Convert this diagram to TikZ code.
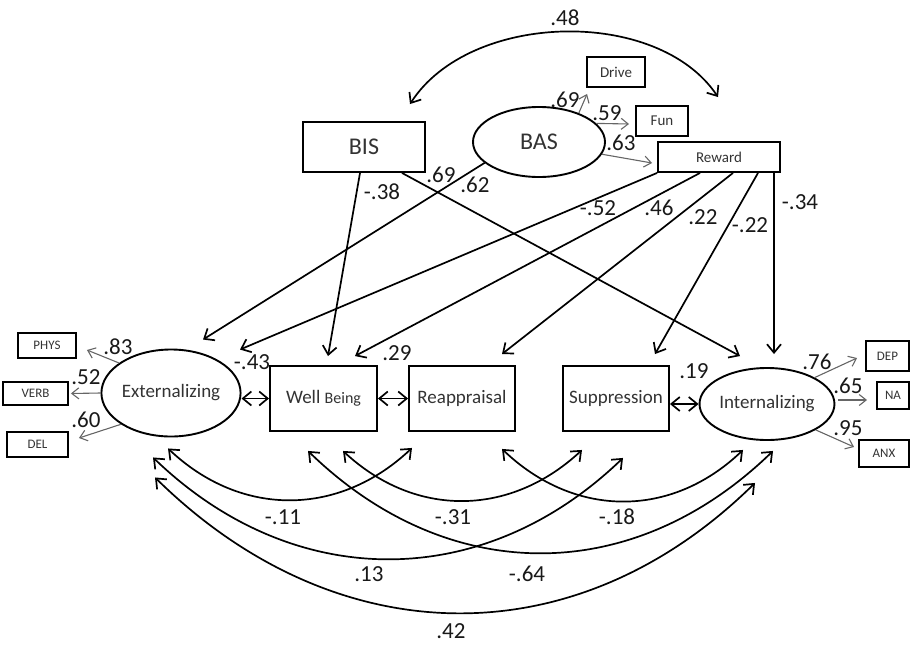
\documentclass[tikz,border=0pt]{standalone}
\usepackage{fontspec}
\setmainfont{Carlito}
\usetikzlibrary{arrows.meta,shapes.geometric}
\tikzset{
  box/.style={draw=black, line width=1.9pt, rectangle, inner sep=0pt, text=black!80},
  ell/.style={draw=black, line width=1.9pt, ellipse, inner sep=0pt, text=black!80},
  lab/.style={inner sep=0pt, font=\fontsize{23}{27}\selectfont, text=black!90},
  reg/.style={line width=1.7pt, -{Straight Barb[length=8.5pt,width=14pt]}},
  cov/.style={line width=1.7pt, {Straight Barb[length=8.5pt,width=14pt]}-{Straight Barb[length=8.5pt,width=14pt]}},
  ind/.style={line width=1.1pt, draw=black!60, -{Straight Barb[length=7pt,width=11pt]}},
  fA/.style={font=\fontsize{24}{28}\selectfont},
  fB/.style={font=\fontsize{19}{22}\selectfont},
  fC/.style={font=\fontsize{15}{18}\selectfont},
  fD/.style={font=\fontsize{13}{15}\selectfont},
}
\begin{document}
\begin{tikzpicture}[x=1pt,y=-1pt]
\useasboundingbox (0,0) rectangle (911,646);
% nodes
\node[box, fA, minimum width=122pt, minimum height=50pt] (bis) at (364,147) {BIS};
\node[ell, fA, minimum width=132pt, minimum height=70pt] (bas) at (539,142) {BAS};
\node[box, fC, minimum width=58pt, minimum height=30pt] (drive) at (616,72) {Drive};
\node[box, fC, minimum width=52pt, minimum height=30pt] (fun) at (662,121) {Fun};
\node[box, fC, minimum width=122pt, minimum height=30pt] (reward) at (719,157) {Reward};
\node[box, fD, minimum width=58pt, minimum height=25pt] (phys) at (47,345.5) {PHYS};
\node[box, fD, minimum width=65pt, minimum height=23pt] (verb) at (35.5,393.5) {VERB};
\node[box, fD, minimum width=61pt, minimum height=25pt] (del) at (37.5,444.5) {DEL};
\node[ell, fB, minimum width=137pt, minimum height=87pt] (ext) at (171,393) {Externalizing};
\node[box, fB, minimum width=107pt, minimum height=65pt] (wb) at (323.5,398.5) {Well {\fontsize{16}{18}\selectfont Being}};
\node[box, fB, minimum width=106pt, minimum height=65pt] (reapp) at (462,398.5) {Reappraisal};
\node[box, fB, minimum width=106pt, minimum height=65pt] (supp) at (616,398.5) {Suppression};
\node[ell, fB, minimum width=130pt, minimum height=72pt] (int) at (767,404) {Internalizing};
\node[box, fD, minimum width=43pt, minimum height=30pt] (dep) at (887.5,356) {DEP};
\node[box, fD, minimum width=32pt, minimum height=27pt] (na) at (893,395.5) {NA};
\node[box, fD, minimum width=50pt, minimum height=27pt] (anx) at (884,453.5) {ANX};

% top covariance
\draw[cov] ([shift={(46,-17)}]bis.north) .. controls +(60,-93) and +(-60,-90) .. ([shift={(-1,-44)}]reward.north);
% BAS indicators
\draw[ind] (bas.36) -- ([shift={(1,6)}]drive.south west);
\draw[ind] (bas.18) -- ([shift={(-6,3)}]fun.west);
\draw[ind] (bas.-11) -- ([shift={(-5,6)}]reward.west);
% regressions
\draw[reg] ([shift={(-4,0)}]bis.south) -- ([shift={(4.5,-9)}]wb.north);
\draw[reg] ([shift={(38,0)}]bis.south) -- ([shift={(-27,-11)}]int.north);
\draw[reg] (bas.201) -- ([shift={(32,-9)}]ext.north);
\draw[reg] (reward.south west) -- ([shift={(69,1)}]ext.north);
\draw[reg] ([shift={(-19,0)}]reward.south) -- ([shift={(31.5,-9)}]wb.north);
\draw[reg] ([shift={(14,0)}]reward.south) -- ([shift={(40,-11)}]reapp.north);
\draw[reg] ([shift={(39,0)}]reward.south) -- ([shift={(39,-11)}]supp.north);
\draw[reg] ([shift={(55,0)}]reward.south) -- ([shift={(7,-13)}]int.north);
% horizontal covariances
\draw[cov] (ext.east |- wb.west) -- (wb.west);
\draw[cov] (wb.east) -- (reapp.west);
\draw[cov] (supp.east |- int.west) -- (int.west);
% indicators
\draw[ind] (ext.150) -- ([shift={(10,4.5)}]phys.east);
\draw[ind] (ext.west) -- ([shift={(2,0)}]verb.east);
\draw[ind] (ext.212) -- ([shift={(10,-6.5)}]del.east);
\draw[ind] (int.29) -- ([shift={(-8,2)}]dep.west);
\draw[ind] ([shift={(3,-4)}]int.east) -- ([shift={(-9,4.5)}]na.west);
\draw[ind] (int.-28) -- ([shift={(-4,-6.5)}]anx.west);
% bottom covariances
\draw[cov] ([shift={(-3,11)}]ext.south) .. controls +(73,69) and +(-73,69) .. ([shift={(-50,16)}]reapp.south);
\draw[cov] ([shift={(19.5,19)}]wb.south) .. controls +(72,67) and +(-72,67) .. ([shift={(-34,18)}]supp.south);
\draw[cov] ([shift={(40,17)}]reapp.south) .. controls +(72,69) and +(-72,69) .. ([shift={(-24,9)}]int.south);
\draw[cov] ([shift={(-18,20)}]ext.south) .. controls +(140,135) and +(-140,135) .. ([shift={(7,26)}]supp.south);
\draw[cov] ([shift={(-15.5,19)}]wb.south) .. controls +(140,136) and +(-140,136) .. ([shift={(6,10)}]int.south);
\draw[cov] ([shift={(-16,40)}]ext.south) .. controls +(180,177) and +(-180,177) .. ([shift={(-12,42)}]int.south);

% labels
\node[lab] (l48) at (565,18) {.48};
\node[lab] (l69d) at (565,100) {.69};
\node[lab] (l59) at (607,113) {.59};
\node[lab] (l63) at (621,143) {.63};
\node[lab] (l38) at (382,192) {-.38};
\node[lab] (l69) at (441,175) {.69};
\node[lab] (l62) at (475,185) {.62};
\node[lab] (l52r) at (598,208) {-.52};
\node[lab] (l46) at (659,208) {.46};
\node[lab] (l22a) at (703,217) {.22};
\node[lab] (l22b) at (750,225) {-.22};
\node[lab] (l34) at (800,202) {-.34};
\node[lab] (l43) at (252,362) {-.43};
\node[lab] (l29) at (397,353) {.29};
\node[lab] (l19) at (694,371) {.19};
\node[lab] (l83) at (118,347) {.83};
\node[lab] (l52) at (86,377) {.52};
\node[lab] (l60) at (86,420) {.60};
\node[lab] (l76) at (817,362) {.76};
\node[lab] (l65) at (848,386) {.65};
\node[lab] (l95) at (848,428) {.95};
\node[lab] (l11) at (283,517) {-.11};
\node[lab] (l31) at (453,517) {-.31};
\node[lab] (l18) at (617,517) {-.18};
\node[lab] (l13) at (369,574) {.13};
\node[lab] (l64) at (527,574) {-.64};
\node[lab] (l42) at (451,631) {.42};
\end{tikzpicture}
\end{document}
